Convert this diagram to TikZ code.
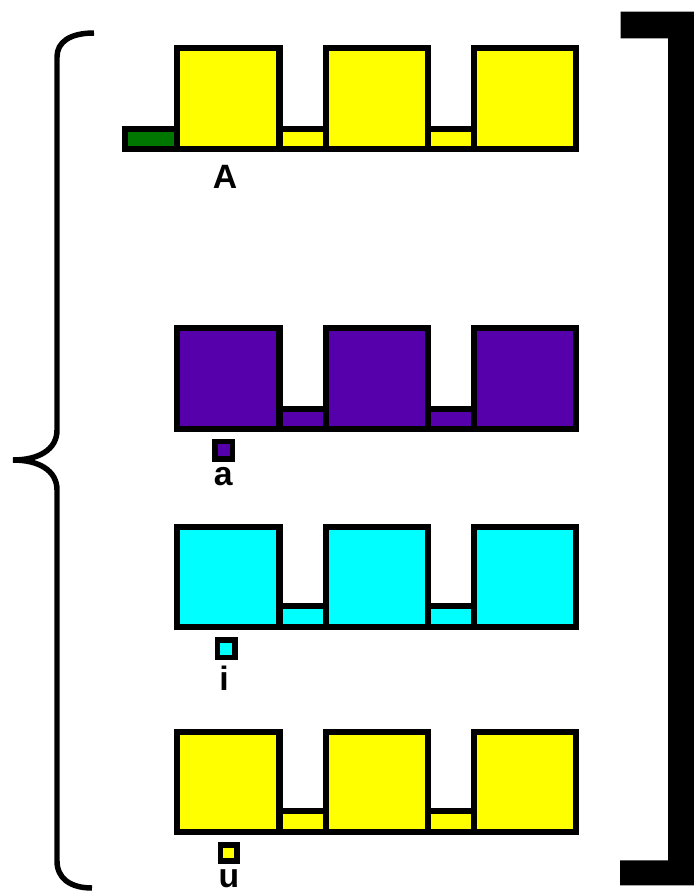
\documentclass[tikz,border=0pt]{standalone}
\usepackage{fontspec}
\setmainfont{Liberation Sans}
\definecolor{vowYellow}{HTML}{FFFF00}
\definecolor{vowPurple}{HTML}{5500AA}
\definecolor{vowCyan}{HTML}{00FFFF}
\definecolor{vowGreen}{HTML}{007700}
\begin{document}
\begin{tikzpicture}[x=0.025cm, y=-0.025cm,
    blk/.style={draw=black, line width=4.5pt, line join=miter},
    swatch/.style={draw=black, line width=3.6pt},
    lbl/.style={anchor=base, inner sep=0pt, font=\fontsize{24}{28}\selectfont\bfseries},
    brc/.style={line width=3.9pt}]
  \useasboundingbox (0,0) rectangle (694,893);
  % rows of blocks
  \foreach \yt/\yb/\col in {48.3/149.3/vowYellow, 328.3/429.3/vowPurple,
      527.3/626.7/vowCyan, 731.7/831.7/vowYellow} {
    \foreach \xl/\xr in {280/325.7, 427.7/474}
      \draw[blk, fill=\col] (\xl,\yb-20.5) rectangle (\xr,\yb);
    \foreach \xl in {177.3, 325.7, 474}
      \draw[blk, fill=\col] (\xl,\yt) rectangle (\xl+102.3,\yb);
  }
  \draw[blk, fill=vowGreen] (124.7,128.7) rectangle (177.3,149.3);
  % swatches and letters
  \draw[swatch, fill=vowPurple] (215,441.7) rectangle (232.5,459);
  \draw[swatch, fill=vowCyan] (217.5,640) rectangle (235,657.5);
  \draw[swatch, fill=vowYellow] (220.5,845) rectangle (237,861);
  \node[lbl] (lblA) at (225,188.3) {A};
  \node[lbl] (lbla) at (223.3,485) {a};
  \node[lbl] (lbli) at (224,690) {i};
  \node[lbl] (lblu) at (229,887.5) {u};
  % brace
  \draw[brc] (94,33) .. controls (70,33) and (57,42) .. (57,57) -- (57,430)
    .. controls (57,450) and (38,460) .. (13,460)
    .. controls (38,460) and (57,470) .. (57,490) -- (57,861)
    .. controls (57,878) and (70,888) .. (92,888);
  % bracket
  \fill (620.7,11.7) -- (694,11.7) -- (694,885.3) -- (620,885.3) -- (620,860.3)
    -- (668,860.3) -- (668,38.3) -- (620.7,38.3) -- cycle;
\end{tikzpicture}
\end{document}
